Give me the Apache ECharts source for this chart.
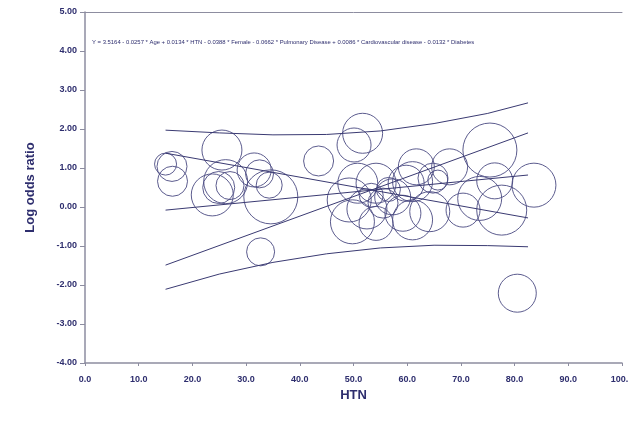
<!DOCTYPE html>
<html>
<head>
<meta charset="utf-8">
<script src="https://cdn.jsdelivr.net/npm/echarts@6/dist/echarts.min.js"></script>
<style>html,body{margin:0;padding:0;background:#fff;overflow:hidden}#c{width:628px;height:428px}</style>
</head>
<body>
<div id="c"></div>
<script>
// Study-level data: covariate HTN (%), log odds ratio, relative weight
var htn    = [15.0,16.2,16.3,23.7,25.5,26.2,24.9,27.0,31.5,32.5,34.3,34.6,43.5,32.7,
              51.7,50.1,50.8,54.2,49.2,49.8,54.2,52.5,57.3,59.8,55.5,61.0,59.2,56.5,61.0,61.7,64.8,65.7,67.9,64.2,70.4,53.3,
              75.4,76.3,77.6,73.5,83.6,80.5];
var logOR  = [1.10,1.04,0.66,0.31,1.46,0.65,0.50,0.55,0.95,0.85,0.56,0.26,1.18,-1.15,
              1.89,1.59,0.61,0.61,0.18,-0.38,-0.42,-0.05,0.26,0.61,0.10,-0.33,-0.16,0.45,0.65,1.03,0.74,0.69,1.03,-0.12,-0.08,0.30,
              1.46,0.67,-0.08,0.22,0.56,-2.21];
var weight = [11,15,15,21,20,22,16,14,17,14,13,27,15,14,
              20,17,20,20,22,22,17,20,18,18,15,20,18,12,20,18,15,10,18,20,17,12,
              27,18,25,22,22,19];

// Regression line, confidence and prediction bounds
var lineX      = [15, 82.5];
var fitted     = [-0.08, 0.82];
var ciUpper    = [1.38, -0.28];
var ciLower    = [-1.49, 1.90];
var piX        = [15, 25, 35, 45, 55, 65, 75, 82.5];
var piUpper    = [1.97, 1.90, 1.85, 1.86, 1.95, 2.14, 2.40, 2.67];
var piLower    = [-2.11, -1.72, -1.42, -1.20, -1.05, -0.98, -0.99, -1.02];

var equation = 'Y = 3.5164 - 0.0257 * Age + 0.0134 * HTN - 0.0388 * Female - 0.0662 * Pulmonary Disease + 0.0086 * Cardiovascular disease - 0.0132 * Diabetes';
var xTitle = 'HTN', yTitle = 'Log odds ratio';

function zip(xs, ys){ return xs.map(function(x,i){ return [x, ys[i]]; }); }
var navy = '#2e2e6e', axisGray = '#8d8da0', lineCol = '#3a3a72';

var chart = echarts.init(document.getElementById('c'), null, {renderer:'canvas', width:628, height:428});
function lineSeries(d){
  return {type:'line', data:d, symbol:'none', smooth:false, silent:true,
          lineStyle:{color:lineCol, width:1}, z:3};
}
chart.setOption({
  animation:false,
  backgroundColor:'#fff',
  grid:{left:85, right:6, top:12, bottom:65, containLabel:false, outerBoundsMode:'none'},
  xAxis:[{
    type:'value', min:0, max:100, interval:10,
    name:xTitle, nameLocation:'middle', nameGap:21,
    nameTextStyle:{color:navy, fontWeight:'bold', fontSize:13, fontFamily:'Liberation Sans'},
    axisLine:{show:true, onZero:false, lineStyle:{color:axisGray, width:1.5}},
    axisTick:{show:true, length:3, inside:false, lineStyle:{color:axisGray}},
    axisLabel:{color:navy, fontSize:9, fontWeight:'bold', fontFamily:'Liberation Sans', margin:12,
               formatter:function(v){return v.toFixed(1);}},
    splitLine:{show:false}
  },{
    type:'value', position:'top', min:0, max:100,
    axisLine:{show:true, onZero:false, lineStyle:{color:axisGray, width:1}},
    axisTick:{show:false}, axisLabel:{show:false}, splitLine:{show:false}
  }],
  yAxis:{
    type:'value', min:-4, max:5, interval:1,
    name:yTitle, nameLocation:'middle', nameGap:48, nameRotate:90,
    nameTextStyle:{color:navy, fontWeight:'bold', fontSize:13, fontFamily:'Liberation Sans'},
    axisLine:{show:true, onZero:false, lineStyle:{color:axisGray, width:1.5}},
    axisTick:{show:true, length:5, lineStyle:{color:axisGray}},
    axisLabel:{color:navy, fontSize:9, fontWeight:'bold', fontFamily:'Liberation Sans', margin:8,
               formatter:function(v){return v.toFixed(2);}},
    splitLine:{show:false}
  },
  graphic:[{
    type:'text', left:92, top:39,
    style:{text:equation, fill:navy, fontSize:5.9, fontFamily:'Liberation Sans'}
  }],
  series:[
    {type:'scatter', data:htn.map(function(x,i){return [x, logOR[i], weight[i]];}),
     symbol:'circle', symbolSize:function(d){return d[2]*2;}, silent:true,
     itemStyle:{color:'rgba(0,0,0,0)', borderColor:'#4a4a82', borderWidth:1, opacity:0.9}, z:2},
    lineSeries(zip(lineX, fitted)),
    lineSeries(zip(lineX, ciUpper)),
    lineSeries(zip(lineX, ciLower)),
    lineSeries(zip(piX, piUpper)),
    lineSeries(zip(piX, piLower))
  ]
});
</script>
</body>
</html>
